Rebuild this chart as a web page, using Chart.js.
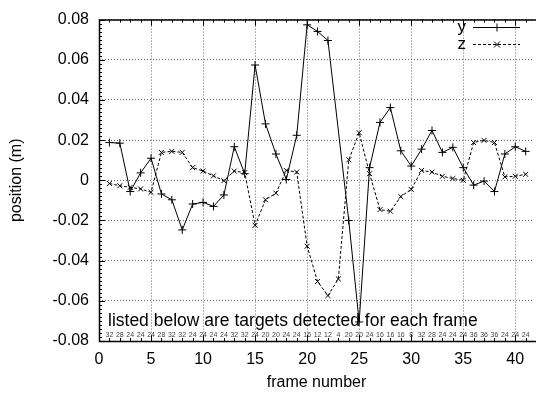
<!DOCTYPE html>
<html>
<head>
<meta charset="utf-8">
<script src="https://cdn.jsdelivr.net/npm/chart.js@4.4.1/dist/chart.umd.min.js"></script>
<style>
html, body { margin: 0; padding: 0; background: #fff; overflow: hidden; }
canvas { display: block; }
</style>
</head>
<body>
<canvas id="graph_pos" width="539" height="395"></canvas>
<script>
var frames = [1, 2, 3, 4, 5, 6, 7, 8, 9, 10, 11, 12, 13, 14, 15, 16, 17, 18, 19, 20,
              21, 22, 23, 24, 25, 26, 27, 28, 29, 30, 31, 32, 33, 34, 35, 36, 37, 38, 39, 40, 41];

// frame 23 has no visible y marker, the line runs straight from 22 to 24
var pos_y = [0.0188, 0.0185, -0.0056, 0.0037, 0.0110, -0.0068, -0.0097, -0.0247, -0.0118, -0.0110,
             -0.0130, -0.0073, 0.0167, 0.0033, 0.0574, 0.0281, 0.0131, 0.0004, 0.0224, 0.0774,
             0.0741, 0.0696, null, -0.0200, -0.0705, 0.0063, 0.0288, 0.0362, 0.0147, 0.0071,
             0.0155, 0.0248, 0.0139, 0.0164, 0.0063, -0.0024, -0.0004, -0.0056, 0.0131, 0.0167, 0.0144];

var pos_z = [-0.0016, -0.0027, -0.0035, -0.0043, -0.0060, 0.0139, 0.0144, 0.0139, 0.0063, 0.0046,
             0.0022, -0.0002, 0.0046, 0.0038, -0.0224, -0.0097, -0.0064, 0.0049, 0.0041, -0.0328,
             -0.0504, -0.0574, -0.0491, 0.0102, 0.0237, 0.0033, -0.0146, -0.0154, -0.0081, -0.0045,
             0.0049, 0.0041, 0.0020, 0.0009, 0.0000, 0.0188, 0.0199, 0.0188, 0.0017, 0.0020, 0.0030];

// number of targets detected in each frame
var targets = [32, 28, 24, 24, 24, 28, 32, 32, 24, 24, 24, 24, 32, 32, 24, 20, 20, 24, 24, 16,
               12, 12, 4, 20, 20, 24, 16, 16, 16, 8, 32, 28, 24, 24, 24, 36, 36, 36, 24, 24, 24];

var x_ticks = [0, 5, 10, 15, 20, 25, 30, 35, 40];
var y_ticks = [-0.08, -0.06, -0.04, -0.02, 0, 0.02, 0.04, 0.06, 0.08];

var FONT = "'Liberation Sans', Arial, sans-serif";

function toPoints(ys)
{
    var pts = [];
    for (var i = 0; i < frames.length; i++) {
        pts.push({ x: frames[i], y: ys[i] });
    }
    return pts;
}

function drawCross(ctx, x, y, r, rot)
{
    ctx.beginPath();
    if (rot) {
        ctx.moveTo(x - r, y - r); ctx.lineTo(x + r, y + r);
        ctx.moveTo(x - r, y + r); ctx.lineTo(x + r, y - r);
    } else {
        ctx.moveTo(x - r, y); ctx.lineTo(x + r, y);
        ctx.moveTo(x, y - r); ctx.lineTo(x, y + r);
    }
    ctx.stroke();
}

var decorations = {
    id: 'decorations',
    afterDraw: function(chart) {
        var ctx = chart.ctx;
        var a = chart.chartArea;
        var xs = chart.scales.x;
        var ys = chart.scales.y;
        var i, p;

        ctx.save();
        ctx.strokeStyle = '#000';
        ctx.lineWidth = 1.5;
        ctx.setLineDash([]);

        // frame (top, left, bottom)
        ctx.beginPath();
        ctx.moveTo(a.right + 2, a.top + 0.5);
        ctx.lineTo(a.left + 0.5, a.top + 0.5);
        ctx.lineTo(a.left + 0.5, a.bottom + 0.5);
        ctx.lineTo(a.right + 2, a.bottom + 0.5);
        ctx.stroke();

        // ticks
        ctx.lineWidth = 1;
        ctx.beginPath();
        for (i = 0; i <= 41; i++) {
            p = Math.round(xs.getPixelForValue(i)) + 0.5;
            var len = (i % 5 === 0) ? 6 : 3;
            ctx.moveTo(p, a.bottom); ctx.lineTo(p, a.bottom - len);
            ctx.moveTo(p, a.top); ctx.lineTo(p, a.top + len);
        }
        for (i = -40; i <= 40; i++) {
            p = Math.round(ys.getPixelForValue(i * 0.002)) + 0.5;
            var ylen = (i % 10 === 0) ? 6 : 3;
            ctx.moveTo(a.left, p); ctx.lineTo(a.left + ylen, p);
        }
        ctx.stroke();

        // axis titles
        ctx.fillStyle = '#000';
        ctx.font = '16px ' + FONT;
        ctx.textAlign = 'center';
        ctx.textBaseline = 'middle';
        ctx.fillText('frame number', (a.left + a.right) / 2, 383);
        ctx.save();
        ctx.translate(17, (a.top + a.bottom) / 2);
        ctx.rotate(-Math.PI / 2);
        ctx.fillText('position (m)', 0, 0);
        ctx.restore();

        // legend
        ctx.textAlign = 'right';
        ctx.font = '17px ' + FONT;
        ctx.fillText('y', 466, 27);
        ctx.fillText('z', 466, 44);
        ctx.beginPath();
        ctx.moveTo(473, 27.5); ctx.lineTo(520, 27.5);
        ctx.stroke();
        drawCross(ctx, 497, 27.5, 4, false);
        ctx.setLineDash([3, 2]);
        ctx.beginPath();
        ctx.moveTo(473, 44.5); ctx.lineTo(520, 44.5);
        ctx.stroke();
        ctx.setLineDash([]);
        drawCross(ctx, 497, 44.5, 3, true);

        // note and target counts
        ctx.textAlign = 'left';
        ctx.font = '17.5px ' + FONT;
        ctx.fillText('listed below are targets detected for each frame', 108, 321);
        ctx.textAlign = 'center';
        ctx.font = '7px ' + FONT;
        ctx.fillStyle = '#444';
        for (i = 0; i < frames.length; i++) {
            ctx.fillText(String(targets[i]), xs.getPixelForValue(frames[i]), 335);
        }
        ctx.restore();
    }
};

var data_pos = {
    datasets: [
        {
            label: 'y',
            data: toPoints(pos_y),
            borderColor: '#000',
            backgroundColor: '#000',
            borderWidth: 1,
            pointStyle: 'cross',
            pointRadius: 4,
            pointBorderWidth: 1,
            pointBorderColor: '#000',
            lineTension: 0,
            spanGaps: true,
            fill: false
        },
        {
            label: 'z',
            data: toPoints(pos_z),
            borderColor: '#000',
            backgroundColor: '#000',
            borderWidth: 1,
            borderDash: [3, 2],
            pointStyle: 'crossRot',
            pointRadius: 3.5,
            pointBorderWidth: 1,
            pointBorderColor: '#000',
            lineTension: 0,
            spanGaps: true,
            fill: false
        }
    ]
};

var ctx_pos = document.getElementById('graph_pos').getContext('2d');

var chart_pos = new Chart(ctx_pos, {
    type: 'line',
    data: data_pos,
    options: {
        responsive: false,
        animation: false,
        layout: { padding: { top: 13, left: 0, right: 0, bottom: 0 } },
        plugins: {
            legend: { display: false },
            tooltip: { enabled: false }
        },
        scales: {
            x: {
                type: 'linear',
                min: 0,
                max: 41.8,
                afterBuildTicks: function(s) { s.ticks = x_ticks.map(function(v) { return { value: v }; }); },
                afterFit: function(s) { s.height = 54; },
                grid: { color: '#666', lineWidth: 1, drawTicks: false },
                border: { display: false, dash: [1, 2] },
                ticks: { color: '#000', font: { family: FONT, size: 16 }, padding: 9, maxRotation: 0 }
            },
            y: {
                min: -0.08,
                max: 0.08,
                afterBuildTicks: function(s) { s.ticks = y_ticks.map(function(v) { return { value: v }; }); },
                afterFit: function(s) { s.width = 99; },
                grid: { color: '#666', lineWidth: 1, drawTicks: false },
                border: { display: false, dash: [1, 2] },
                ticks: {
                    color: '#000',
                    font: { family: FONT, size: 16 },
                    padding: 10,
                    callback: function(v) { return v === 0 ? '0' : v.toFixed(2); }
                }
            }
        }
    },
    plugins: [decorations]
});
</script>
</body>
</html>
